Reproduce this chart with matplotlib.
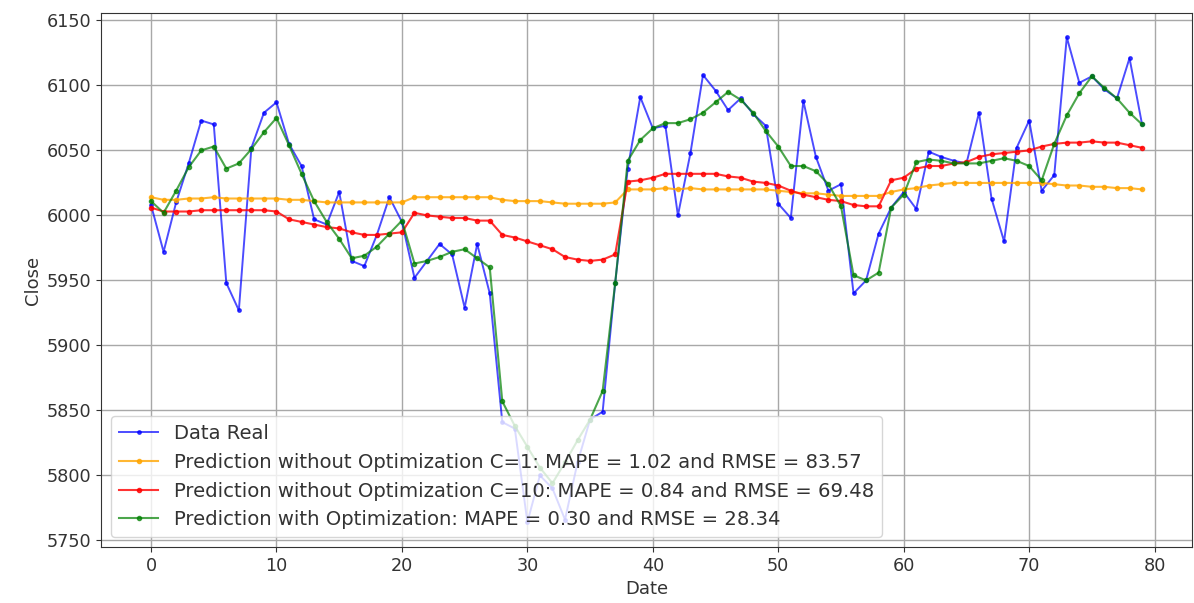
import numpy as np
import matplotlib
matplotlib.use('Agg')
import matplotlib.pyplot as plt

# values
data_real = [6008, 5972, 6010, 6040, 6073, 6070, 5948, 5927, 6052, 6079,
             6087, 6055, 6038, 5997, 5993, 6018, 5965, 5961, 5985, 6014,
             5995, 5952, 5965, 5978, 5970, 5929, 5978, 5940, 5841, 5836,
             5764, 5800, 5790, 5766, 5810, 5843, 5849, 5948, 6036, 6091,
             6067, 6069, 6000, 6048, 6108, 6096, 6081, 6090, 6078, 6069,
             6009, 5998, 6088, 6045, 6019, 6024, 5940, 5950, 5986, 6006,
             6018, 6005, 6049, 6045, 6042, 6040, 6079, 6013, 5980, 6052,
             6073, 6019, 6031, 6137, 6102, 6107, 6097, 6090, 6121, 6070]

pred_c1 = [6014, 6012, 6012, 6013, 6013, 6014, 6013, 6013, 6013, 6013,
           6013, 6012, 6012, 6011, 6010, 6010, 6010, 6010, 6010, 6010,
           6010, 6014, 6014, 6014, 6014, 6014, 6014, 6014, 6012, 6011,
           6011, 6011, 6010, 6009, 6009, 6009, 6009, 6010, 6020, 6020,
           6020, 6021, 6020, 6021, 6020, 6020, 6020, 6020, 6020, 6020,
           6019, 6018, 6017, 6017, 6016, 6015, 6015, 6015, 6015, 6018,
           6020, 6021, 6023, 6024, 6025, 6025, 6025, 6025, 6025, 6025,
           6025, 6025, 6024, 6023, 6023, 6022, 6022, 6021, 6021, 6020]

pred_c10 = [6006, 6003, 6003, 6003, 6004, 6004, 6004, 6004, 6004, 6004,
            6003, 5997, 5995, 5993, 5991, 5990, 5987, 5985, 5985, 5986,
            5987, 6002, 6000, 5999, 5998, 5998, 5996, 5996, 5985, 5983,
            5980, 5977, 5974, 5968, 5966, 5965, 5966, 5970, 6026, 6027,
            6029, 6032, 6032, 6032, 6032, 6032, 6030, 6029, 6026, 6025,
            6023, 6019, 6016, 6014, 6012, 6011, 6008, 6007, 6007, 6027,
            6029, 6036, 6038, 6038, 6040, 6041, 6045, 6047, 6048, 6049,
            6050, 6053, 6055, 6056, 6056, 6057, 6056, 6056, 6054, 6052]

pred_opt = [6011, 6002, 6019, 6037, 6050, 6053, 6036, 6040, 6051, 6064,
            6075, 6054, 6032, 6011, 5995, 5982, 5967, 5969, 5976, 5986,
            5996, 5963, 5965, 5968, 5972, 5974, 5967, 5960, 5857, 5838,
            5822, 5806, 5794, 5810, 5827, 5843, 5865, 5948, 6042, 6058,
            6067, 6071, 6071, 6074, 6079, 6087, 6095, 6089, 6079, 6065,
            6053, 6038, 6038, 6034, 6024, 6007, 5954, 5950, 5956, 6006,
            6016, 6041, 6043, 6042, 6040, 6040, 6040, 6042, 6044, 6042,
            6038, 6027, 6055, 6077, 6094, 6107, 6098, 6090, 6079, 6070]

labels = ['Data Real',
          'Prediction without Optimization C=1: MAPE = 1.02 and RMSE = 83.57',
          'Prediction without Optimization C=10: MAPE = 0.84 and RMSE = 69.48',
          'Prediction with Optimization: MAPE = 0.30 and RMSE = 28.34']

x = np.arange(len(data_real))

fig = plt.figure(figsize=(11.94, 6.03), dpi=100)
ax = fig.add_axes([0.085, 0.093, 0.913, 0.885])

ax.plot(x, data_real, '.-', color='blue', alpha=0.7, lw=1.4, ms=5, label=labels[0])
ax.plot(x, pred_c1, '.-', color='orange', alpha=0.8, lw=1.5, ms=6, label=labels[1])
ax.plot(x, pred_c10, '.-', color='red', alpha=0.8, lw=1.5, ms=6, label=labels[2])
ax.plot(x, pred_opt, '.-', color='green', alpha=0.7, lw=1.5, ms=6, label=labels[3])

ax.set_xlim(-3.95, 82.95)
ax.set_ylim(5745, 6155.5)
ax.set_yticks(np.arange(5750, 6151, 50))
ax.grid(True, color='#a8a8a8', lw=1)
ax.tick_params(labelsize=12.7, colors='#333333', labelcolor='#333333')
ax.set_xlabel('Date', fontsize=13, color='#333333')
ax.set_ylabel('Close', fontsize=13, color='#333333')
for s in ax.spines.values():
    s.set_color('#333333')

leg = ax.legend(loc='lower left', fontsize=14.1)
for t in leg.get_texts():
    t.set_color('#333333')

plt.savefig('out.png', dpi=100)
